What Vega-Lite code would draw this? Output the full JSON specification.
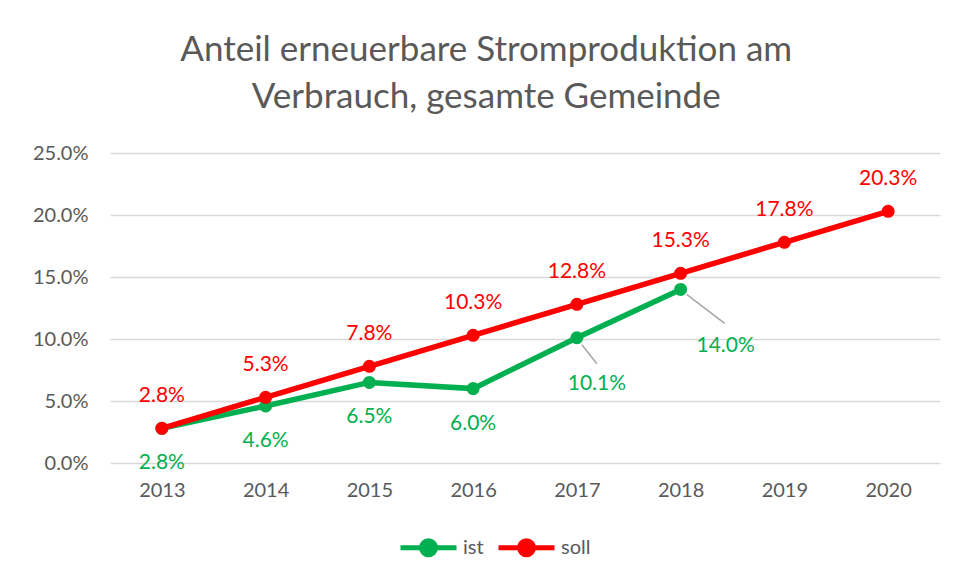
{
  "$schema": "https://vega.github.io/schema/vega-lite/v6.json",
  "autosize": "none",
  "width": 830,
  "height": 310,
  "padding": {"left": 110, "top": 153, "right": 20, "bottom": 118},
  "background": "white",
  "config": {
    "font": "Lato",
    "view": {"stroke": null}
  },
  "title": {
    "text": ["Anteil erneuerbare Stromproduktion am", "Verbrauch, gesamte Gemeinde"],
    "fontSize": 35,
    "fontWeight": "normal",
    "color": "#595959",
    "lineHeight": 47,
    "anchor": "middle",
    "frame": "bounds",
    "offset": 28
  },
  "data": {
    "values": [
      {"year": "2013", "series": "ist", "value": 0.028},
      {"year": "2014", "series": "ist", "value": 0.046},
      {"year": "2015", "series": "ist", "value": 0.065},
      {"year": "2016", "series": "ist", "value": 0.060},
      {"year": "2017", "series": "ist", "value": 0.101},
      {"year": "2018", "series": "ist", "value": 0.140},
      {"year": "2013", "series": "soll", "value": 0.028},
      {"year": "2014", "series": "soll", "value": 0.053},
      {"year": "2015", "series": "soll", "value": 0.078},
      {"year": "2016", "series": "soll", "value": 0.103},
      {"year": "2017", "series": "soll", "value": 0.128},
      {"year": "2018", "series": "soll", "value": 0.153},
      {"year": "2019", "series": "soll", "value": 0.178},
      {"year": "2020", "series": "soll", "value": 0.203}
    ]
  },
  "encoding": {
    "x": {
      "field": "year", "type": "ordinal",
      "scale": {"type": "point", "padding": 0.5},
      "axis": {
        "title": null, "labelAngle": 0, "labelFontSize": 20, "labelColor": "#595959",
        "ticks": false, "domain": false, "labelPadding": 17
      }
    },
    "y": {
      "field": "value", "type": "quantitative",
      "scale": {"domain": [0, 0.25], "nice": false},
      "axis": {
        "title": null, "format": ".1%", "values": [0, 0.05, 0.1, 0.15, 0.2, 0.25],
        "labelOverlap": false,
        "labelFontSize": 20, "labelColor": "#595959", "ticks": false, "domain": false,
        "labelPadding": 22, "gridColor": "#D9D9D9", "gridWidth": 1.5
      }
    }
  },
  "layer": [
    {
      "mark": {"type": "line", "strokeWidth": 5.5, "point": {"filled": true, "size": 170}},
      "encoding": {
        "color": {
          "field": "series", "type": "nominal",
          "scale": {"domain": ["ist", "soll"], "range": ["#00B050", "#FF0000"]},
          "legend": {
            "title": null, "orient": "none", "direction": "horizontal",
            "legendX": 288, "legendY": 364,
            "symbolType": "M-1,0L1,0M0.25,0A0.25,0.25,0,1,1,-0.25,0A0.25,0.25,0,1,1,0.25,0Z",
            "symbolSize": 3136, "symbolStrokeWidth": 5,
            "labelFontSize": 20, "labelColor": "#595959", "labelOffset": 4,
            "columnPadding": 4,
            "encode": {
              "symbols": {
                "update": {
                  "fill": {"scale": "color", "field": "value"},
                  "stroke": {"scale": "color", "field": "value"},
                  "strokeWidth": {"value": 5}
                }
              }
            }
          }
        }
      }
    },
    {
      "transform": [{"filter": "datum.series == 'soll'"}],
      "mark": {"type": "text", "dy": -32, "fontSize": 21, "color": "#FF0000"},
      "encoding": {"text": {"field": "value", "type": "quantitative", "format": ".1%"}}
    },
    {
      "transform": [{"filter": "datum.series == 'ist' && toNumber(datum.year) <= 2016"}],
      "mark": {"type": "text", "dy": 35, "fontSize": 21, "color": "#00B050"},
      "encoding": {"text": {"field": "value", "type": "quantitative", "format": ".1%"}}
    },
    {
      "transform": [{"filter": "datum.series == 'ist' && datum.year == '2017'"}],
      "mark": {"type": "rule", "color": "#A6A6A6", "strokeWidth": 1.5, "xOffset": 5, "yOffset": 7, "x2Offset": 20, "y2Offset": 26},
      "encoding": {"x2": {"field": "year"}, "y2": {"field": "value"}}
    },
    {
      "transform": [{"filter": "datum.series == 'ist' && datum.year == '2018'"}],
      "mark": {"type": "rule", "color": "#A6A6A6", "strokeWidth": 1.5, "xOffset": 6, "yOffset": 5, "x2Offset": 44, "y2Offset": 34},
      "encoding": {"x2": {"field": "year"}, "y2": {"field": "value"}}
    },
    {
      "transform": [{"filter": "datum.series == 'ist' && datum.year == '2017'"}],
      "mark": {"type": "text", "dx": 20, "dy": 46, "fontSize": 21, "color": "#00B050"},
      "encoding": {"text": {"field": "value", "type": "quantitative", "format": ".1%"}}
    },
    {
      "transform": [{"filter": "datum.series == 'ist' && datum.year == '2018'"}],
      "mark": {"type": "text", "dx": 45, "dy": 57, "fontSize": 21, "color": "#00B050"},
      "encoding": {"text": {"field": "value", "type": "quantitative", "format": ".1%"}}
    }
  ]
}
